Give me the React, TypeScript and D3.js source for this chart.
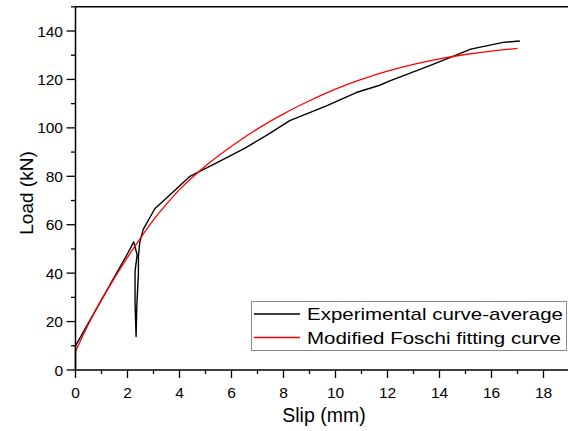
import React from "react";
import * as d3 from "d3";

const expSlip = [0, 0, 0.5, 1, 1.5, 2, 2.24, 2.37, 2.29, 2.29, 2.33, 2.36, 2.42, 2.42, 2.47, 2.6, 3.05, 3.5, 4.27, 4.4, 4.72, 5.5, 6.5, 7.41, 8.24, 9.65, 10.8, 11.7, 12.09, 13.6, 14.4, 15.2, 16.45, 17.09];
const expLoad = [0, 10, 19.5, 29, 38.5, 48, 52.9, 47.6, 40.7, 28, 13.8, 27, 40, 47, 52.5, 58, 66.6, 71, 78.7, 80, 81.7, 86, 91.5, 97.3, 103, 109.1, 114.6, 117.6, 119.4, 125.6, 129, 132.5, 135.3, 135.9];

const fitSlip = [0, 0.5, 1, 1.5, 2, 2.5, 3, 3.5, 4, 4.75, 5.5, 6.25, 7, 8, 9, 10, 11, 12, 13, 14, 15, 16, 17];
const fitLoad = [7.6, 19, 29, 38, 46.5, 54.5, 62, 68.5, 74.5, 82, 88.5, 94.3, 99.6, 105.8, 111.2, 116, 120, 123.4, 126.2, 128.5, 130.3, 131.7, 132.8];

const xTicks = [0, 2, 4, 6, 8, 10, 12, 14, 16, 18];
const yTicks = [0, 20, 40, 60, 80, 100, 120, 140];
const seriesNames = ["Experimental curve-average", "Modified Foschi fitting curve"];

const FONT = "'Liberation Sans', Arial, sans-serif";

export default function App() {
  const x = d3.scaleLinear().domain([0, 19]).range([75.5, 569.5]);
  const y = d3.scaleLinear().domain([0, 150]).range([370, 6.8]);
  const line = d3.line<[number, number]>().x((d) => x(d[0])).y((d) => y(d[1]));
  const fitLine = d3
    .line<[number, number]>()
    .x((d) => x(d[0]))
    .y((d) => y(d[1]))
    .curve(d3.curveMonotoneX);
  const expData: [number, number][] = expSlip.map((s, i) => [s, expLoad[i]]);
  const fitData: [number, number][] = fitSlip.map((s, i) => [s, fitLoad[i]]);
  const xMinor = d3.range(0, 19.01, 1);
  const yMinor = d3.range(0, 150.01, 10);

  return (
    <svg width={568} height={431} style={{ position: "absolute", left: 0, top: 0, background: "#fff" }}>
      <rect x={0} y={0} width={568} height={431} fill="#fff" />
      {/* frame */}
      <line x1={x(0)} x2={x(19)} y1={y(150)} y2={y(150)} stroke="#000" strokeWidth={1.5} />
      <line x1={x(19)} x2={x(19)} y1={y(150)} y2={y(0)} stroke="#000" strokeWidth={1.5} />
      {/* curves */}
      <path d={line(expData) || ""} fill="none" stroke="#000" strokeWidth={1.4} strokeLinejoin="round" />
      <path d={fitLine(fitData) || ""} fill="none" stroke="#ff0000" strokeWidth={1.3} />
      {/* axes */}
      <line x1={x(0)} x2={x(19)} y1={y(0)} y2={y(0)} stroke="#000" strokeWidth={1.5} />
      <line x1={x(0)} x2={x(0)} y1={y(0)} y2={y(150)} stroke="#000" strokeWidth={1.5} />
      {xMinor.map((t) => (
        <line key={"xm" + t} x1={x(t)} x2={x(t)} y1={y(0)} y2={y(0) + (t % 2 === 0 ? 8 : 4)} stroke="#000" strokeWidth={1.3} />
      ))}
      {yMinor.map((t) => (
        <line key={"ym" + t} x1={x(0)} x2={x(0) - (t % 20 === 0 ? 9 : 4.5)} y1={y(t)} y2={y(t)} stroke="#000" strokeWidth={1.3} />
      ))}
      {xTicks.map((t) => (
        <text key={"xt" + t} x={x(t)} y={398} textAnchor="middle" fontFamily={FONT} fontSize={15.5} fill="#000">
          {t}
        </text>
      ))}
      {yTicks.map((t) => (
        <text key={"yt" + t} x={63} y={y(t) + 5.5} textAnchor="end" fontFamily={FONT} fontSize={15.5} fill="#000">
          {t}
        </text>
      ))}
      <text x={324} y={422} textAnchor="middle" fontFamily={FONT} fontSize={19.5} fill="#000">
        Slip (mm)
      </text>
      <text
        transform={`translate(33, 193) rotate(-90)`}
        textAnchor="middle"
        fontFamily={FONT}
        fontSize={19}
        fill="#000"
      >
        Load (kN)
      </text>
      {/* legend */}
      <rect x={251.5} y={301.5} width={315} height={49} fill="#fff" stroke="#8a8a8a" strokeWidth={1} />
      <line x1={254} x2={300} y1={314} y2={314} stroke="#000" strokeWidth={1.3} />
      <line x1={254} x2={300} y1={337.5} y2={337.5} stroke="#ff0000" strokeWidth={1.3} />
      <text x={307} y={320} fontFamily={FONT} fontSize={17} fill="#000" textLength={256} lengthAdjust="spacingAndGlyphs">
        {seriesNames[0]}
      </text>
      <text x={307} y={343.5} fontFamily={FONT} fontSize={17} fill="#000" textLength={254} lengthAdjust="spacingAndGlyphs">
        {seriesNames[1]}
      </text>
    </svg>
  );
}
